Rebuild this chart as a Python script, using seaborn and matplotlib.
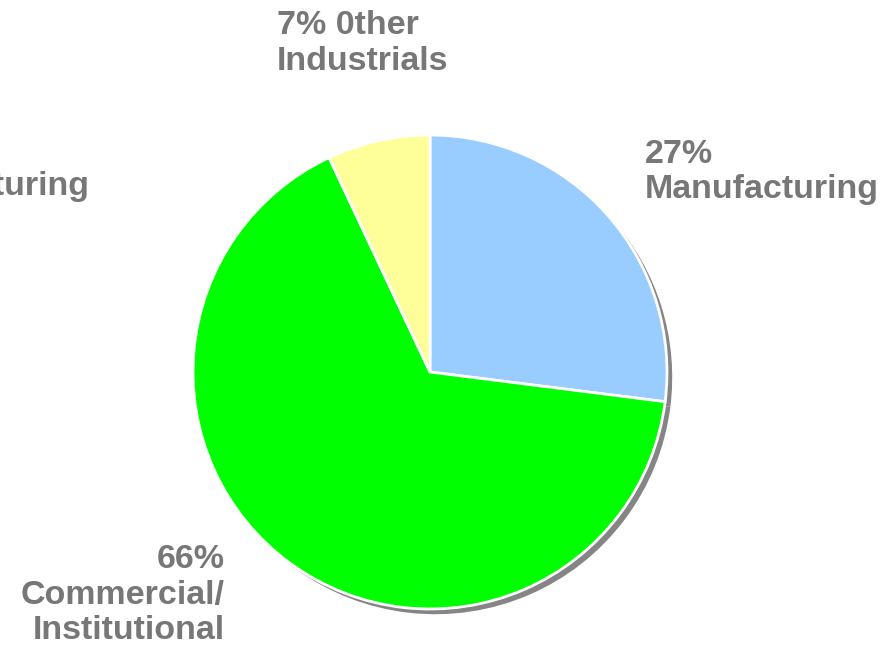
import matplotlib
matplotlib.use("Agg")
import matplotlib.pyplot as plt
import seaborn as sns

sns.set_style("white")
plt.rcParams["font.family"] = ["Liberation Sans", "DejaVu Sans"]

# energy use share by sector
sectors = ["Manufacturing", "Commercial/Institutional", "Other Industrials"]
shares = [27, 66, 7]
colors = ["#99CCFF", "#00FF00", "#FFFF99"]
labels = ["27%\nManufacturing", "66%\nCommercial/\nInstitutional", "7% 0ther\nIndustrials"]

fig = plt.figure(figsize=(8.91, 6.49), dpi=100)
ax = fig.add_axes([0, 0, 1, 1])

# drop shadow, then the pie itself
ax.pie(shares, colors=["#858585"] * len(shares), startangle=90, counterclock=False,
       center=(0.022, -0.022), wedgeprops=dict(linewidth=0))
ax.pie(shares, colors=colors, startangle=90, counterclock=False,
       wedgeprops=dict(edgecolor="white", linewidth=2))

ax.set_xlim(-430 / 237, 461 / 237)
ax.set_ylim(-277 / 237, 372 / 237)
ax.set_aspect("equal")
ax.axis("off")

txt = dict(fontsize=24.5, fontweight="bold", color="#777777", linespacing=1.2)
ax.text(0.907, 0.985, labels[0], ha="left", va="top", **txt)
ax.text(-0.865, -0.725, labels[1], ha="right", va="top", multialignment="right", **txt)
ax.text(-0.646, 1.527, labels[2], ha="left", va="top", **txt)
# partly cut-off copy of the manufacturing label at the left edge
ax.text(-2.425, 1.0, labels[0], ha="left", va="top", **txt)

fig.savefig("out.png", dpi=100)
